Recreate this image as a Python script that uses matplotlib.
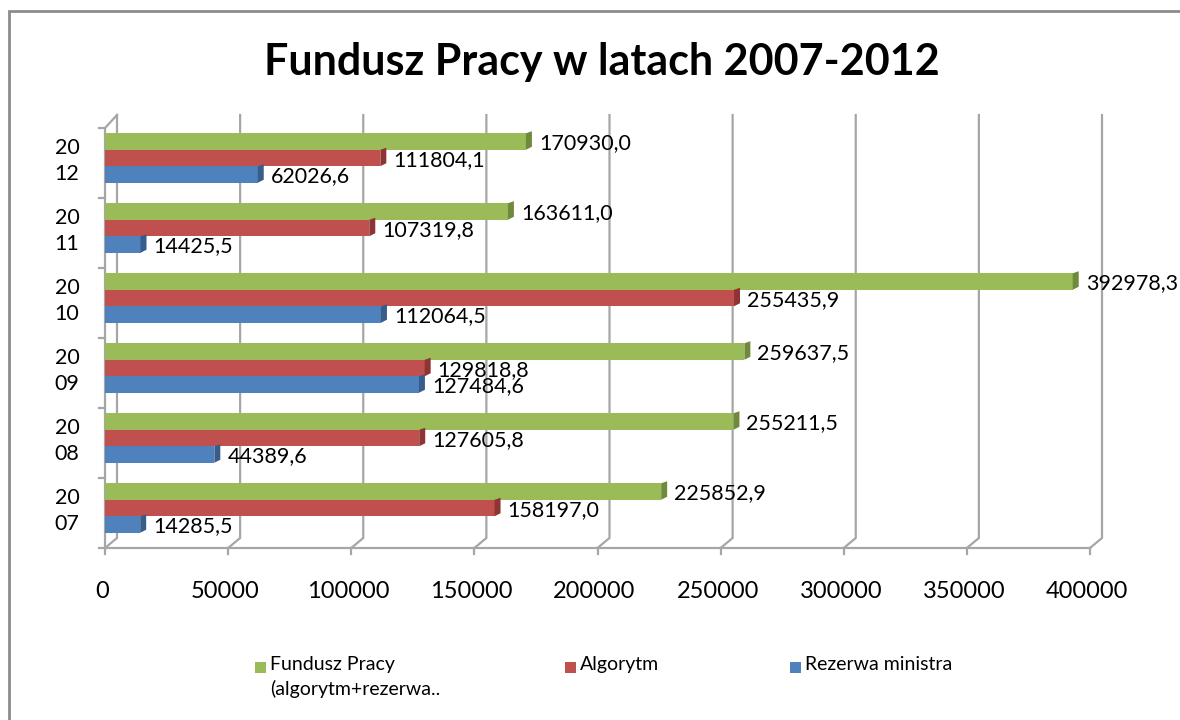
import matplotlib.pyplot as plt
from matplotlib.patches import Rectangle, Polygon
import numpy as np

# Data (thousand PLN)
years = ['2007', '2008', '2009', '2010', '2011', '2012']
fundusz = [225852.9, 255211.5, 259637.5, 392978.3, 163611.0, 170930.0]
algorytm = [158197.0, 127605.8, 129818.8, 255435.9, 107319.8, 111804.1]
rezerwa = [14285.5, 44389.6, 127484.6, 112064.5, 14425.5, 62026.6]

series_names = ['Fundusz Pracy\n(algorytm+rezerwa..', 'Algorytm', 'Rezerwa ministra']
colors = ['#9BBB59', '#C0504D', '#4F81BD']
dark = ['#6E8A3A', '#8E3533', '#385D8A']

W, H = 1180, 720
fig = plt.figure(figsize=(W / 100, H / 100), dpi=100)
font = 'Lato'

# chart border
fig.patches.append(Rectangle((9 / W, -0.1), 1.2, 1 - 11 / H + 0.1, transform=fig.transFigure,
                             fill=False, edgecolor='#8C8C8C', linewidth=2))

# axes: x 0 -> 105px, 400000 -> 1090px ; y front floor at 548px, top at 115px
ax = fig.add_axes([105 / W, 172 / H, 985 / W, 433 / H])
x_scale = 400000 / 985.0  # data per pixel
y_scale = 1 / 70.0        # categories per pixel
ax.set_xlim(0, 400000)
ax.set_ylim(-0.5, 5.5 + 13 * y_scale)
for s in ax.spines.values():
    s.set_visible(False)

dx = 12 * x_scale
dy = 10 * y_scale
grid_c = '#A6A6A6'
ticks = np.arange(0, 400001, 50000)
ytop = 5.5 + 13 * y_scale

# back-wall gridlines with a 3D foot
for t in ticks:
    ax.plot([t, t + dx, t + dx], [-0.5, -0.5 + dy, ytop], color=grid_c, lw=1.6,
            zorder=1, clip_on=False, solid_joinstyle='miter')
    ax.plot([t, t], [-0.5, -0.5 - 6 * y_scale], color=grid_c, lw=1.6, clip_on=False)
# floor and left wall
ax.plot([0, 400000], [-0.5, -0.5], color=grid_c, lw=1.6, clip_on=False)
ax.plot([0, 0, dx], [-0.5, 5.5, ytop], color=grid_c, lw=1.6, clip_on=False)
for b in np.arange(-0.5, 5.6, 1.0):
    ax.plot([0, -6 * x_scale], [b, b], color=grid_c, lw=1.6, clip_on=False)

ax.set_xticks([])
ax.set_yticks([])

# bars
bh = 16.5 * y_scale
shift = 5 * y_scale
cap = 6 * x_scale
y = np.arange(len(years))
data = [fundusz, algorytm, rezerwa]
for k, vals in enumerate(data):
    yc = y + shift + (1 - k) * bh
    ax.barh(yc, vals, height=bh, color=colors[k], edgecolor='none', zorder=3)
    for yi, v in zip(yc, vals):
        # darker end cap for the 3D look
        poly = Polygon([(v, yi - bh / 2), (v + cap, yi - bh / 2 + 3 * y_scale),
                        (v + cap, yi + bh / 2 + 2 * y_scale), (v, yi + bh / 2)],
                       closed=True, facecolor=dark[k], edgecolor='none', zorder=3)
        ax.add_patch(poly)
        lbl = f'{v:.1f}'.replace('.', ',')
        ax.text(v + 13 * x_scale, yi - 2 * y_scale, lbl, va='center', ha='left',
                fontsize=15.5, family=font, zorder=4, clip_on=False)

# year labels split on two lines
for yi, yr in zip(y, years):
    ax.text(-38 * x_scale, yi + 2 * y_scale, yr[:2] + '\n' + yr[2:], ha='center', va='center',
            fontsize=15.5, family=font, linespacing=1.4)

# x tick labels
for t in ticks:
    ax.text(t - 3 * x_scale, -0.5 - 44 * y_scale, str(t), ha='center', va='center',
            fontsize=17, family=font)

# title
fig.text(602 / W, 1 - 62 / H, 'Fundusz Pracy w latach 2007-2012', ha='center', va='center',
         fontsize=31, fontweight='bold', family=font)

# legend
leg_x = [255, 565, 790]
for k in range(3):
    fig.patches.append(Rectangle((leg_x[k] / W, 1 - 673 / H), 11 / W, 11 / H,
                                 transform=fig.transFigure, facecolor=colors[k], edgecolor='none'))
    fig.text((leg_x[k] + 15) / W, 1 - 656 / H, series_names[k], ha='left', va='top',
             fontsize=14, family=font, linespacing=1.45)

fig.savefig('out.png', dpi=100)
